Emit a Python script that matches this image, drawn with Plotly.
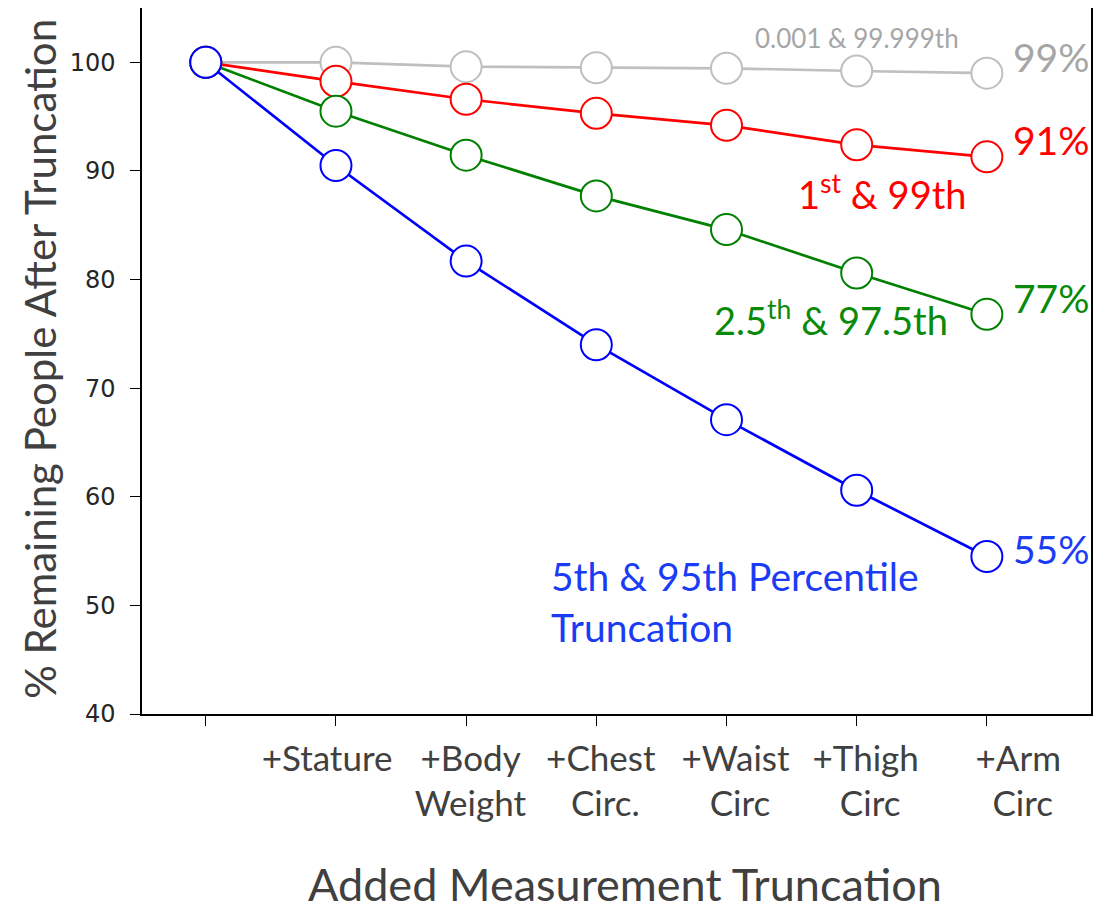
import plotly.graph_objects as go

# ---- data ----
categories = ["", "+Stature", "+Body<br>Weight", "+Chest<br>Circ.", "+Waist<br>Circ",
              "+Thigh<br>Circ", "+Arm<br>Circ"]
pct_0001 = [100.0, 100.0, 99.6, 99.5, 99.45, 99.2, 99.0]
pct_1 = [100.0, 98.25, 96.6, 95.3, 94.2, 92.4, 91.3]
pct_25 = [100.0, 95.5, 91.45, 87.7, 84.6, 80.6, 76.8]
pct_5 = [100.0, 90.5, 81.7, 74.0, 67.1, 60.6, 54.5]
end_labels = ["99%", "91%", "77%", "55%"]
y_ticks = [40, 50, 60, 70, 80, 90, 100]
x_title = "Added Measurement Truncation"
y_title = "% Remaining People After Truncation"

x = list(range(len(categories)))

# small horizontal nudges of the tick label lines (in non-breaking spaces;
# positive = pad on the left, negative = pad on the right)
NB = "\u00a0"
line_nudges = [[0], [-2], [1, 1], [1, 2], [2, 3], [2, 3], [7, 8]]


def nudge(label, counts):
    out = []
    for line, n in zip(label.split("<br>"), counts):
        out.append(NB * n + line if n >= 0 else line + NB * (-n))
    return "<br>".join(out)


tick_text = [nudge(c, n) for c, n in zip(categories, line_nudges)]

series = [
    (pct_0001, "#bfbfbf", "#a6a6a6", end_labels[0]),
    (pct_1, "#ff0000", "#ff0000", end_labels[1]),
    (pct_25, "#008000", "#0a8a0a", end_labels[2]),
    (pct_5, "#0000ff", "#1a3cf5", end_labels[3]),
]

TXT = "Lato"
fig = go.Figure()
for vals, col, tcol, lab in series:
    fig.add_trace(go.Scatter(
        x=x, y=vals, mode="lines+markers",
        line=dict(color=col, width=2.7),
        marker=dict(size=31, color="white", line=dict(color=col, width=2)),
        showlegend=False, hoverinfo="skip"))

# end labels
end_y = [100.5, 92.85, 78.3, 55.2]
for (vals, col, tcol, lab), yy in zip(series, end_y):
    fig.add_annotation(x=x[-1], y=yy, text=lab, showarrow=False,
                       xanchor="left", yanchor="middle", xshift=24,
                       font=dict(family=TXT, size=39, color=tcol))

fig.add_annotation(x=5.0, y=102.2, text="0.001 & 99.999th", showarrow=False,
                   xanchor="center", yanchor="middle",
                   font=dict(family=TXT, size=26, color="#a6a6a6"))
fig.add_annotation(x=5.2, y=88.1, text="1<sup>st</sup> & 99th", showarrow=False,
                   xanchor="center", yanchor="middle",
                   font=dict(family=TXT, size=38, color="#ff0000"))
fig.add_annotation(x=4.8, y=76.5, text="2.5<sup>th</sup> & 97.5th", showarrow=False,
                   xanchor="center", yanchor="middle",
                   font=dict(family=TXT, size=38, color="#0a8a0a"))
fig.add_annotation(x=2.64, y=50.4, text="5th & 95th Percentile<br>Truncation", showarrow=False,
                   xanchor="left", yanchor="middle", align="left",
                   font=dict(family=TXT, size=39, color="#1a3cf5"))

# axis titles
fig.add_annotation(xref="paper", yref="paper", x=0.509, y=-0.241, text=x_title,
                   showarrow=False, xanchor="center", yanchor="middle",
                   font=dict(family=TXT, size=45, color="#404040"))
fig.add_annotation(xref="paper", yref="paper", x=-0.1075, y=0.503, text=y_title,
                   showarrow=False, xanchor="center", yanchor="middle", textangle=-90,
                   font=dict(family=TXT, size=42, color="#404040"))

fig.update_layout(
    width=1107, height=897,
    margin=dict(l=134, r=24, t=0, b=191),
    paper_bgcolor="white", plot_bgcolor="white",
    xaxis=dict(
        range=[-0.49, 6.8], tickvals=x, ticktext=tick_text, tickangle=0,
        showgrid=False, zeroline=False, automargin=False,
        showline=True, linecolor="black", linewidth=1.5, mirror=True,
        ticks="outside", ticklen=10, tickwidth=1.3, tickcolor="black",
        ticklabelstandoff=3,
        tickfont=dict(family=TXT, size=35, color="#404040"),
    ),
    yaxis=dict(
        range=[40, 105], tickvals=y_ticks,
        showgrid=False, zeroline=False, automargin=False,
        showline=True, linecolor="black", linewidth=1.5, mirror=True,
        ticks="outside", ticklen=10, tickwidth=1.3, tickcolor="black",
        ticklabelstandoff=10,
        tickfont=dict(family="DejaVu Sans", size=24, color="#262626"),
    ),
)

fig.write_html("out.html")
